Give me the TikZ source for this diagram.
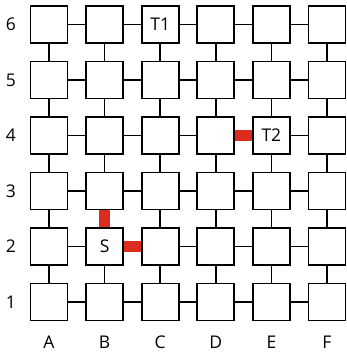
\documentclass[tikz,border=0pt]{standalone}
\usepackage{fontspec}
\setmainfont{Open Sans}
\definecolor{barred}{HTML}{DD2C1E}
\begin{document}
\begin{tikzpicture}[x=1pt,y=-1pt,
  cell/.style={draw=black,line width=1.8pt,fill=white,minimum size=37pt,inner sep=0pt,font=\fontsize{17.5}{20}\selectfont},
  link/.style={draw=black,line width=1.6pt},
  redlink/.style={draw=barred,line width=10.5pt},
  lbl/.style={font=\fontsize{17.5}{20}\selectfont,inner sep=0pt}]
\useasboundingbox (0,0) rectangle (346,353);
\foreach \c [count=\i from 0] in {A,B,C,D,E,F}{
  \node[lbl] (col\c) at ({49+55.6*\i},342) {\c};
}
\foreach \r in {1,...,6}{
  \node[lbl] (row\r) at (11,{302-55.5*(\r-1)}) {\r};
}
\foreach \c [count=\i from 0] in {A,B,C,D,E,F}{
  \foreach \r in {1,...,6}{
    \coordinate (p\c\r) at ({49+55.6*\i},{302-55.5*(\r-1)});
  }
}
\foreach \a/\b in {A/B,B/C,C/D,D/E,E/F}{
  \foreach \r in {1,...,6}{
    \draw[link] (p\a\r) -- (p\b\r);
  }
}
\foreach \c in {A,B,C,D,E,F}{
  \foreach \r/\s in {1/2,2/3,3/4,4/5,5/6}{
    \draw[link] (p\c\r) -- (p\c\s);
  }
}
\foreach \c in {A,B,C,D,E,F}{
  \foreach \r in {1,...,6}{
    \node[cell] (n\c\r) at (p\c\r) {};
  }
}
\node[cell] at (nC6) {T1};
\node[cell] at (nE4) {T2};
\node[cell] at (nB2) {S};
\draw[redlink] (nB3.south) -- (nB2.north);
\draw[redlink] (nB2.east) -- (nC2.west);
\draw[redlink] (nD4.east) -- (nE4.west);
\end{tikzpicture}
\end{document}
